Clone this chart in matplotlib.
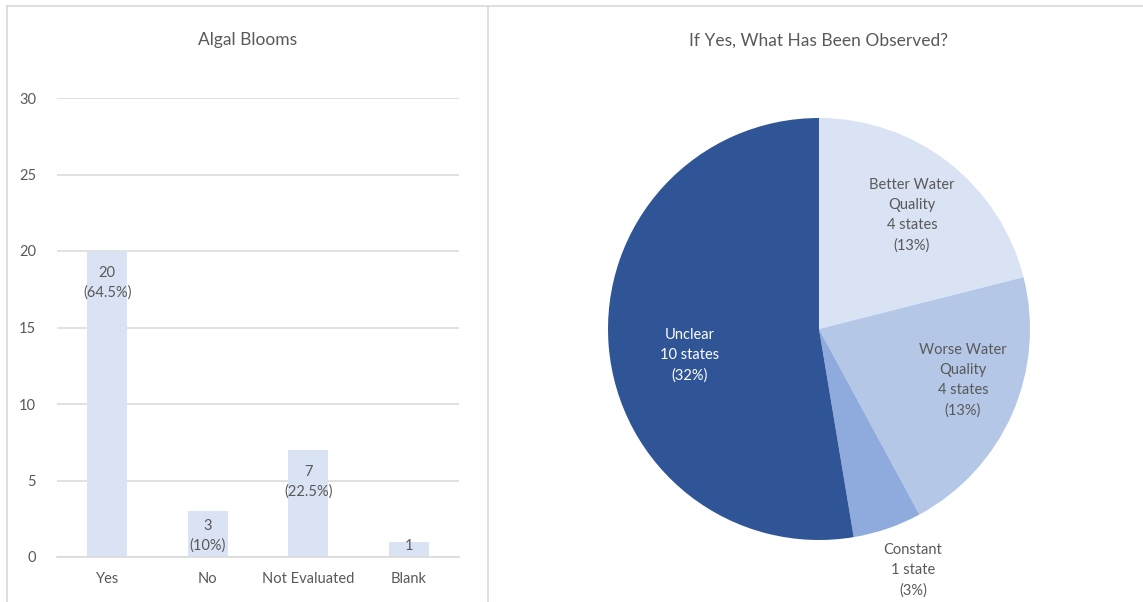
import matplotlib.pyplot as plt
from matplotlib.lines import Line2D

plt.rcParams['font.family'] = ['Lato', 'DejaVu Sans']

# Survey counts for the bar chart
bloom_categories = ['Yes', 'No', 'Not Evaluated', 'Blank']
bloom_counts = [20, 3, 7, 1]
bloom_labels = ['20\n(64.5%)', '3\n(10%)', '7\n(22.5%)', '1']

# Breakdown of the "Yes" answers for the pie chart
observed_categories = ['Better Water\nQuality', 'Worse Water\nQuality', 'Constant', 'Unclear']
observed_states = [4, 4, 1, 10]
observed_labels = ['Better Water\nQuality\n4 states\n(13%)',
                   'Worse Water\nQuality\n4 states\n(13%)',
                   'Constant\n1 state\n(3%)',
                   'Unclear\n10 states\n(32%)']

TEXT = '#595959'
GRID = '#D9D9D9'
W, H = 1143, 602

fig = plt.figure(figsize=(W / 100, H / 100), dpi=100)


def px_box(x0, y0, x1, y1):
    # pixel box (top-left origin) -> figure fraction rect
    return [x0 / W, 1 - y1 / H, (x1 - x0) / W, (y1 - y0) / H]


# panel frames
for xs, ys in [([7, 7], [6, 602]), ([488, 488], [6, 602]), ([7, 1143], [6, 6])]:
    fig.add_artist(Line2D([x / W for x in xs], [1 - y / H for y in ys],
                          color=GRID, lw=1.2, transform=fig.transFigure))

# ---- bar chart ----
ax = fig.add_axes(px_box(57, 98, 459, 557))
x = range(len(bloom_categories))
ax.bar(x, bloom_counts, width=0.4, color='#DAE3F3', zorder=2)
ax.set_xlim(-0.5, 3.5)
ax.set_ylim(0, 30)
ax.set_yticks(range(0, 31, 5))
ax.set_xticks(list(x))
ax.set_xticklabels(bloom_categories)
ax.tick_params(length=0, colors=TEXT, labelsize=10.5)
ax.tick_params(axis='y', pad=15)
ax.tick_params(axis='x', pad=11)
ax.grid(axis='y', color=GRID, lw=1.1, zorder=0)
for s in ['top', 'right', 'left']:
    ax.spines[s].set_visible(False)
ax.spines['bottom'].set_color(GRID)
ax.spines['bottom'].set_linewidth(1.1)
fig.text(248 / W, 1 - 40 / H, 'Algal Blooms', ha='center', va='center',
         color=TEXT, fontsize=12.5)

px_per_unit = (557 - 98) / 30
for i, (v, lab) in enumerate(zip(bloom_counts, bloom_labels)):
    block = 20 * (lab.count('\n') + 1) - 4
    off = min(15, v * px_per_unit - block - 2)
    ax.annotate(lab, (i, v), xytext=(0, -off), textcoords='offset pixels',
                ha='center', va='top', color=TEXT, fontsize=10.5,
                linespacing=1.5, zorder=3)

# ---- pie chart ----
cx, cy, r = 819, 329, 211
pax = fig.add_axes(px_box(cx - r, cy - r, cx + r, cy + r))
pax.pie(observed_states, colors=['#DAE3F3', '#B4C7E7', '#8FAADC', '#2F5597'],
        startangle=90, counterclock=False, radius=1)
pax.set_xlim(-1, 1)
pax.set_ylim(-1, 1)
pax.set_aspect('equal')
pax.axis('off')

label_pos = [(912, 215), (963, 380), (913, 570), (690, 355)]
label_col = [TEXT, TEXT, TEXT, 'white']
for lab, (lx, ly), c in zip(observed_labels, label_pos, label_col):
    pax.text((lx - cx) / r, (cy - ly) / r, lab, ha='center', va='center',
             color=c, fontsize=10.5, linespacing=1.55, clip_on=False)

fig.text(cx / W, 1 - 41 / H, 'If Yes, What Has Been Observed?', ha='center',
         va='center', color=TEXT, fontsize=12.5)

fig.savefig('out.png', dpi=100, facecolor='white')
